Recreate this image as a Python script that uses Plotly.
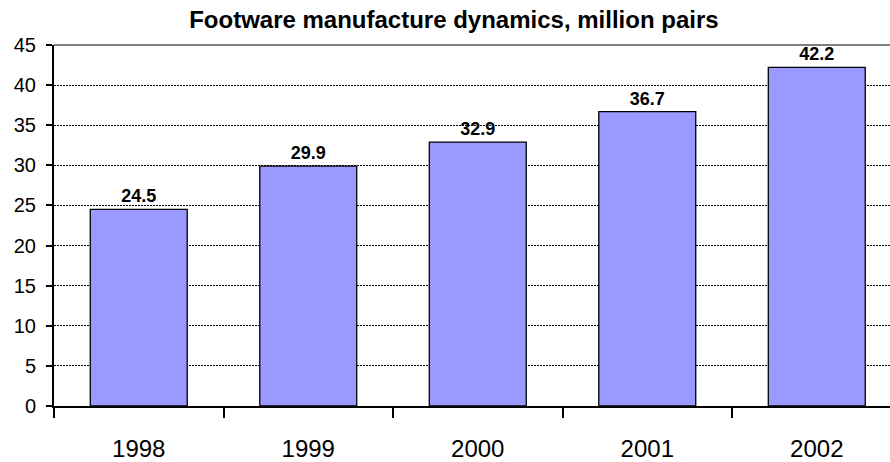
import plotly.graph_objects as go

years = ["1998", "1999", "2000", "2001", "2002"]
values = [24.5, 29.9, 32.9, 36.7, 42.2]
labels = ["24.5", "29.9", "32.9", "36.7", "42.2"]
y_ticks = [0, 5, 10, 15, 20, 25, 30, 35, 40, 45]

FONT = "Liberation Sans, Arial, sans-serif"

fig = go.Figure()
fig.add_trace(go.Bar(
    x=years, y=values, text=labels, textposition="outside",
    textfont=dict(family=FONT, size=18, color="black", weight="bold"),
    marker=dict(color="#9999FF", line=dict(color="black", width=1.3)),
    width=0.572, cliponaxis=False,
))

fig.update_layout(
    width=890, height=462,
    margin=dict(l=54, r=0, t=45, b=53),
    plot_bgcolor="white", paper_bgcolor="white",
    showlegend=False,
    font=dict(family=FONT, color="black"),
    title=dict(text="<b>Footware manufacture dynamics, million pairs</b>",
               x=0.51, xref="container", xanchor="center",
               y=0.958, yref="container", yanchor="middle",
               font=dict(family=FONT, size=24, color="black")),
    xaxis=dict(type="category", range=[-0.5, 4.432],
               showline=True, linecolor="black", linewidth=2,
               ticks="outside", tickson="boundaries", ticklen=10, tickwidth=2,
               tickcolor="black", showgrid=False,
               tickfont=dict(family=FONT, size=24, color="black"),
               ticklabelstandoff=20),
    yaxis=dict(range=[0, 45], tickvals=y_ticks,
               showline=True, linecolor="black", linewidth=2,
               ticks="outside", ticklen=6, tickwidth=2, tickcolor="black",
               showgrid=True, gridcolor="black", gridwidth=1, griddash="2px,1px",
               zeroline=False,
               tickfont=dict(family=FONT, size=20, color="black"),
               ticklabelstandoff=6),
    bargap=0.428,
)

fig.add_shape(type="line", xref="paper", yref="paper", x0=0, x1=1, y0=1, y1=1,
              line=dict(color="#808080", width=2), layer="above")

fig.write_html("out.html")
